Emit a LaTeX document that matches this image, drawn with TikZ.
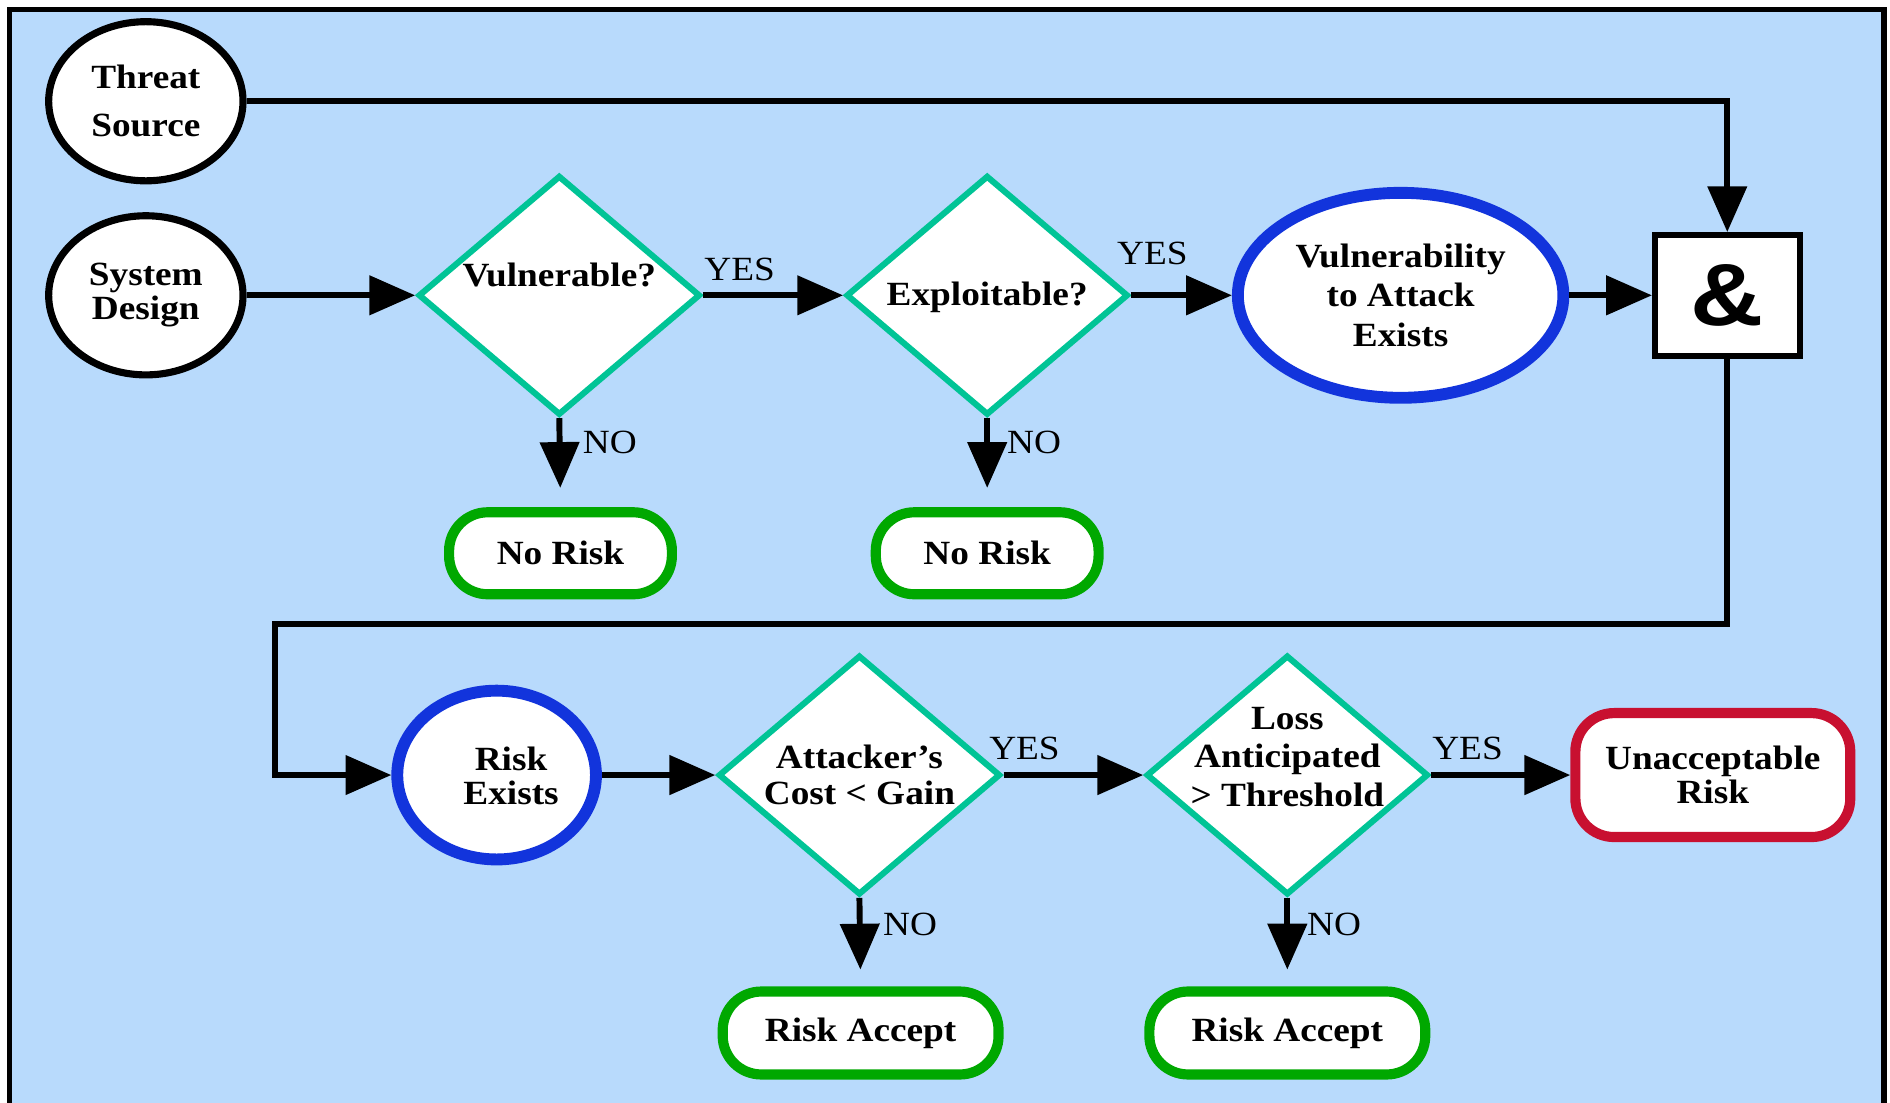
\documentclass[tikz,border=0pt]{standalone}
\usepackage{fontspec}
\setmainfont[FakeStretch=1.1]{Liberation Serif}
\newfontfamily\ampfont[FakeStretch=1.15]{Liberation Sans}
\usetikzlibrary{shapes.geometric, arrows.meta}

\definecolor{skyfill}{RGB}{184,218,252}
\definecolor{decteal}{RGB}{0,196,150}
\definecolor{stateblue}{RGB}{18,52,220}
\definecolor{okgreen}{RGB}{0,168,0}
\definecolor{badred}{RGB}{200,16,48}

\begin{document}
\begin{tikzpicture}[x=0.025cm, y=-0.025cm,
  txt/.style={font=\bfseries\fontsize{20}{21}\selectfont, align=center, text=black, inner sep=0pt},
  lab/.style={font=\fontsize{20}{20}\selectfont, inner sep=2pt, text=black},
  source/.style={ellipse, draw=black, line width=4.2pt, fill=white,
    minimum width=4.03cm, minimum height=3.3cm, txt},
  decision/.style={diamond, draw=decteal, line width=3.6pt, fill=white, inner sep=0pt,
    minimum width=5.85cm, minimum height=4.97cm},
  state/.style={ellipse, draw=stateblue, line width=7pt, fill=white, txt},
  outcome/.style={rectangle, rounded corners=0.8cm, line width=6pt, fill=white, txt},
  andgate/.style={rectangle, draw=black, line width=3.5pt, fill=white,
    minimum width=3.0cm, minimum height=2.5cm, font=\ampfont\bfseries\fontsize{52}{52}\selectfont},
  arr/.style={line width=3.5pt, -{Triangle[length=0.95cm, width=0.8cm]}},
]
\useasboundingbox (0,0) rectangle (1568,915);

% panel
\begin{scope}
  \clip (0,0) rectangle (1568,915);
  \draw[line width=3pt, fill=skyfill] (8,8) rectangle (1563,960);
\end{scope}

% inputs
\node[source] (ts) at (121,84) {Threat\\[7.4pt]Source};
\node[source] (sd) at (121,245) {System\\[-1pt]Design};

% first row of decisions
\node[decision] (d1) at (464,245) {};
\node[txt] (d1t) at (464,228) {Vulnerable?};
\node[decision] (d2) at (819,245) {};
\node[txt] (d2t) at (819,247) {Exploitable?};

\node[state, minimum width=6.75cm, minimum height=4.25cm] (vul) at (1162,245)
  {Vulnerability\\[2.5pt]to Attack\\[2.5pt]Exists};
\node[andgate] (and) at (1433,245) {\&};

\node[outcome, draw=okgreen, minimum width=4.62cm, minimum height=1.7cm] (nr1) at (465,459) {No Risk};
\node[outcome, draw=okgreen, minimum width=4.62cm, minimum height=1.7cm] (nr2) at (819,459) {No Risk};

% second row
\node[state, minimum width=4.12cm, minimum height=3.5cm] (re) at (412,643) {};
\node[txt] (ret) at (424,644) {Risk\\[-1pt]Exists};

\node[decision] (d3) at (713,643) {};
\node[txt] (d3t) at (713,643) {Attacker’s\\[0.3pt]Cost < Gain};
\node[decision] (d4) at (1068,643) {};
\node[txt] (d4t) at (1068,628) {Loss\\[1.8pt]Anticipated\\[1.8pt]> Threshold};

\node[outcome, draw=badred, minimum width=5.7cm, minimum height=2.57cm] (ur) at (1421,643)
  {Unacceptable\\[-1pt]Risk};

\node[outcome, draw=okgreen, minimum width=5.72cm, minimum height=1.72cm] (ra1) at (714,857) {Risk Accept};
\node[outcome, draw=okgreen, minimum width=5.72cm, minimum height=1.72cm] (ra2) at (1068,857) {Risk Accept};

\coordinate (bend) at (228,518);

% connectors
\draw[arr] (ts.east) -| (and.north);
\draw[arr] (sd.east) -- (d1.west);
\draw[arr] (d1.east) -- node[lab, above=5pt, pos=0.26] {YES} (d2.west);
\draw[arr] (d2.east) -- node[lab, above=14pt, pos=0.21] {YES} (vul.west);
\draw[arr] (vul.east) -- (and.west);
\draw[arr, shorten >=0.4cm] (d1.south) -- node[lab, right=10pt, pos=0.27] {NO} (nr1.north);
\draw[arr, shorten >=0.4cm] (d2.south) -- node[lab, right=8pt, pos=0.27] {NO} (nr2.north);

\draw[arr] (and.south) |- (bend) |- (re.west);
\draw[arr] (re.east) -- (d3.west);
\draw[arr] (d3.east) -- node[lab, above=5pt, pos=0.15] {YES} (d4.west);
\draw[arr] (d4.east) -- node[lab, above=5pt, pos=0.26] {YES} (ur.west);
\draw[arr, shorten >=0.35cm] (d3.south) -- node[lab, right=10pt, pos=0.3] {NO} (ra1.north);
\draw[arr, shorten >=0.35cm] (d4.south) -- node[lab, right=8pt, pos=0.3] {NO} (ra2.north);
\end{tikzpicture}
\end{document}
